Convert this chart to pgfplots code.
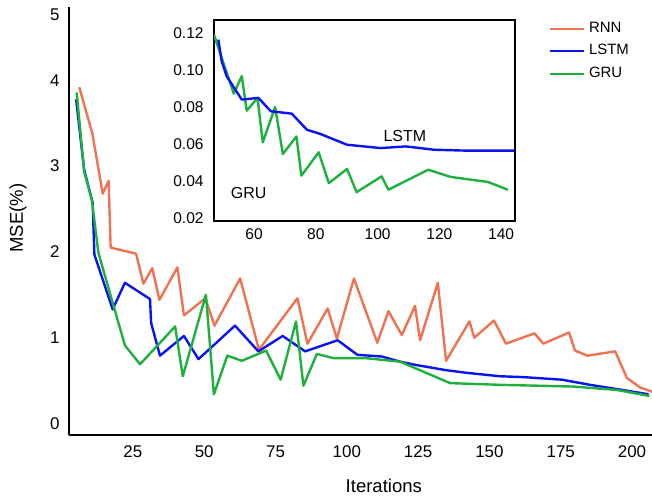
\documentclass[border=0pt]{standalone}
\usepackage{fontspec}
\setmainfont{Liberation Sans}
\usepackage{pgfplots}
\pgfplotsset{compat=1.18}

\definecolor{rnnc}{HTML}{EF7352}
\definecolor{lstmc}{HTML}{0A14F2}
\definecolor{gruc}{HTML}{1EB03C}

\begin{document}
\begin{tikzpicture}
% main chart
\begin{axis}[
    at={(0,0)}, anchor=south west,
    scale only axis,
    width=291.5bp, height=214bp,
    xmin=2.6, xmax=207,
    ymin=-0.135, ymax=4.856,
    axis x line=bottom, axis y line=left,
    axis line style={-},
    x axis line style={line width=1.4bp},
    y axis line style={line width=1.1bp},
    major tick length=0pt,
    xtick={25,50,75,100,125,150,175,200},
    ytick={0,1,2,3,4,4.76},
    yticklabels={0,1,2,3,4,5},
    /pgf/number format/assume math mode=true,
    tick label style={font=\fontsize{8.5}{10}\selectfont},
    yticklabel style={inner sep=0pt, xshift=-4.5bp},
    xticklabel style={inner sep=0pt, yshift=-5bp},
    xlabel={Iterations}, ylabel={MSE(\%)},
    every axis x label/.style={at={(axis description cs:0.54,-0.119)}, anchor=center, font=\fontsize{9.3}{11}\selectfont},
    every axis y label/.style={at={(axis description cs:-0.0875,0.507)}, rotate=90, anchor=center, font=\fontsize{9.3}{11}\selectfont},
    legend style={draw=none, fill=none, font=\fontsize{7.5}{9}\selectfont,
        at={(axis description cs:0.822,0.975)}, anchor=north west,
        inner sep=0pt, row sep=0.6bp},
    legend cell align=left,
]
\addplot[rnnc, line width=1.2bp, line join=round] coordinates {
    (6.2,3.92) (10.8,3.38) (14.4,2.68) (16.5,2.83) (17.2,2.05) (26.1,1.98)
    (28.7,1.63) (31.8,1.81) (34.3,1.44) (40.6,1.82) (42.9,1.26) (50.4,1.46)
    (53.6,1.14) (62.6,1.69) (69.2,0.86) (82.7,1.46) (86.2,0.93) (93.3,1.34)
    (96.5,0.99) (102.5,1.69) (110.7,0.94) (114.6,1.31) (119.3,1.03) (123.9,1.37)
    (125.7,0.97) (131.9,1.64) (134.8,0.73) (143,1.19) (144.7,1.00) (151.6,1.20)
    (155.8,0.93) (165.8,1.05) (168.9,0.93) (177.9,1.06) (180,0.85) (184.3,0.79)
    (194.1,0.84) (198.2,0.53) (202.8,0.42) (207,0.37)
};
\addlegendentry{RNN}
\addplot[lstmc, line width=1.2bp, line join=round] coordinates {
    (5.1,3.78) (7.9,2.96) (10.9,2.57) (11.5,1.97) (17.9,1.33) (22.2,1.64)
    (31,1.45) (31.4,1.17) (34.5,0.79) (42.9,1.02) (48,0.75) (60.8,1.14)
    (69,0.84) (77.5,1.02) (85.4,0.84) (96.8,0.97) (103.7,0.80) (112.3,0.78)
    (118.7,0.72) (124.5,0.68) (135,0.62) (142,0.59) (153.7,0.55) (161.9,0.54)
    (175.4,0.51) (185.3,0.45) (194.7,0.40) (205.8,0.34)
};
\addlegendentry{LSTM}
\addplot[gruc, line width=1.2bp, line join=round] coordinates {
    (5.3,3.86) (7.9,2.94) (10.6,2.61) (12.9,1.99) (22.2,0.91) (27.5,0.69)
    (39.8,1.13) (42.5,0.55) (50.6,1.50) (53.4,0.34) (58.1,0.79) (63.2,0.73)
    (71.7,0.85) (76.8,0.51) (82.2,1.19) (84.8,0.44) (89.5,0.81) (95.5,0.76)
    (107,0.76) (118.7,0.72) (136.2,0.47) (153.7,0.45) (179.4,0.43) (194.7,0.39)
    (206.1,0.32)
};
\addlegendentry{GRU}
\end{axis}

% inset
\begin{axis}[
    at={(72.5bp,107bp)}, anchor=south west,
    scale only axis,
    width=150.5bp, height=100.5bp,
    xmin=47, xmax=144.5,
    ymin=0.0184, ymax=0.127,
    axis line style={line width=1bp},
    axis background/.style={fill=white},
    major tick length=0pt,
    xtick={60,80,100,120,140},
    ytick={0.02,0.04,0.06,0.08,0.10,0.12},
    /pgf/number format/assume math mode=true,
    yticklabel={\pgfmathprintnumber[fixed,fixed zerofill,precision=2]{\tick}},
    scaled y ticks=false,
    tick label style={font=\fontsize{7.8}{9}\selectfont},
    yticklabel style={inner sep=0pt, xshift=-5bp},
    xticklabel style={inner sep=0pt, yshift=-3.5bp},
]
\addplot[gruc, line width=1.2bp, line join=round] coordinates {
    (47,0.119) (53.4,0.0872) (56,0.0967) (57.6,0.078) (61.1,0.0849) (62.8,0.0609)
    (66.8,0.080) (69.3,0.0546) (73.7,0.0641) (75.3,0.0429) (80.9,0.0555) (84.2,0.0389)
    (90.1,0.0465) (93.2,0.034) (101.3,0.0425) (103.5,0.0353) (116.4,0.0461)
    (123.7,0.0422) (135.7,0.0395) (142.2,0.0353)
};
\addplot[lstmc, line width=1.2bp, line join=round] coordinates {
    (48.4,0.1164) (49.5,0.1047) (51.1,0.0966) (56,0.084) (61.4,0.0849) (65.4,0.0777)
    (72.2,0.0764) (77.1,0.0677) (81.5,0.0654) (90.1,0.0596) (101,0.0578)
    (109.1,0.0587) (118.3,0.0569) (129.2,0.0564) (144.3,0.0564)
};
\node[font=\fontsize{8}{10}\selectfont] at (axis cs:108.8,0.0645) {LSTM};
\node[font=\fontsize{8}{10}\selectfont] at (axis cs:58.2,0.0335) {GRU};
\end{axis}

\pgfresetboundingbox
\path[use as bounding box] (-34.5bp,-32bp) rectangle (291.5bp,217.5bp);
\end{tikzpicture}
\end{document}
